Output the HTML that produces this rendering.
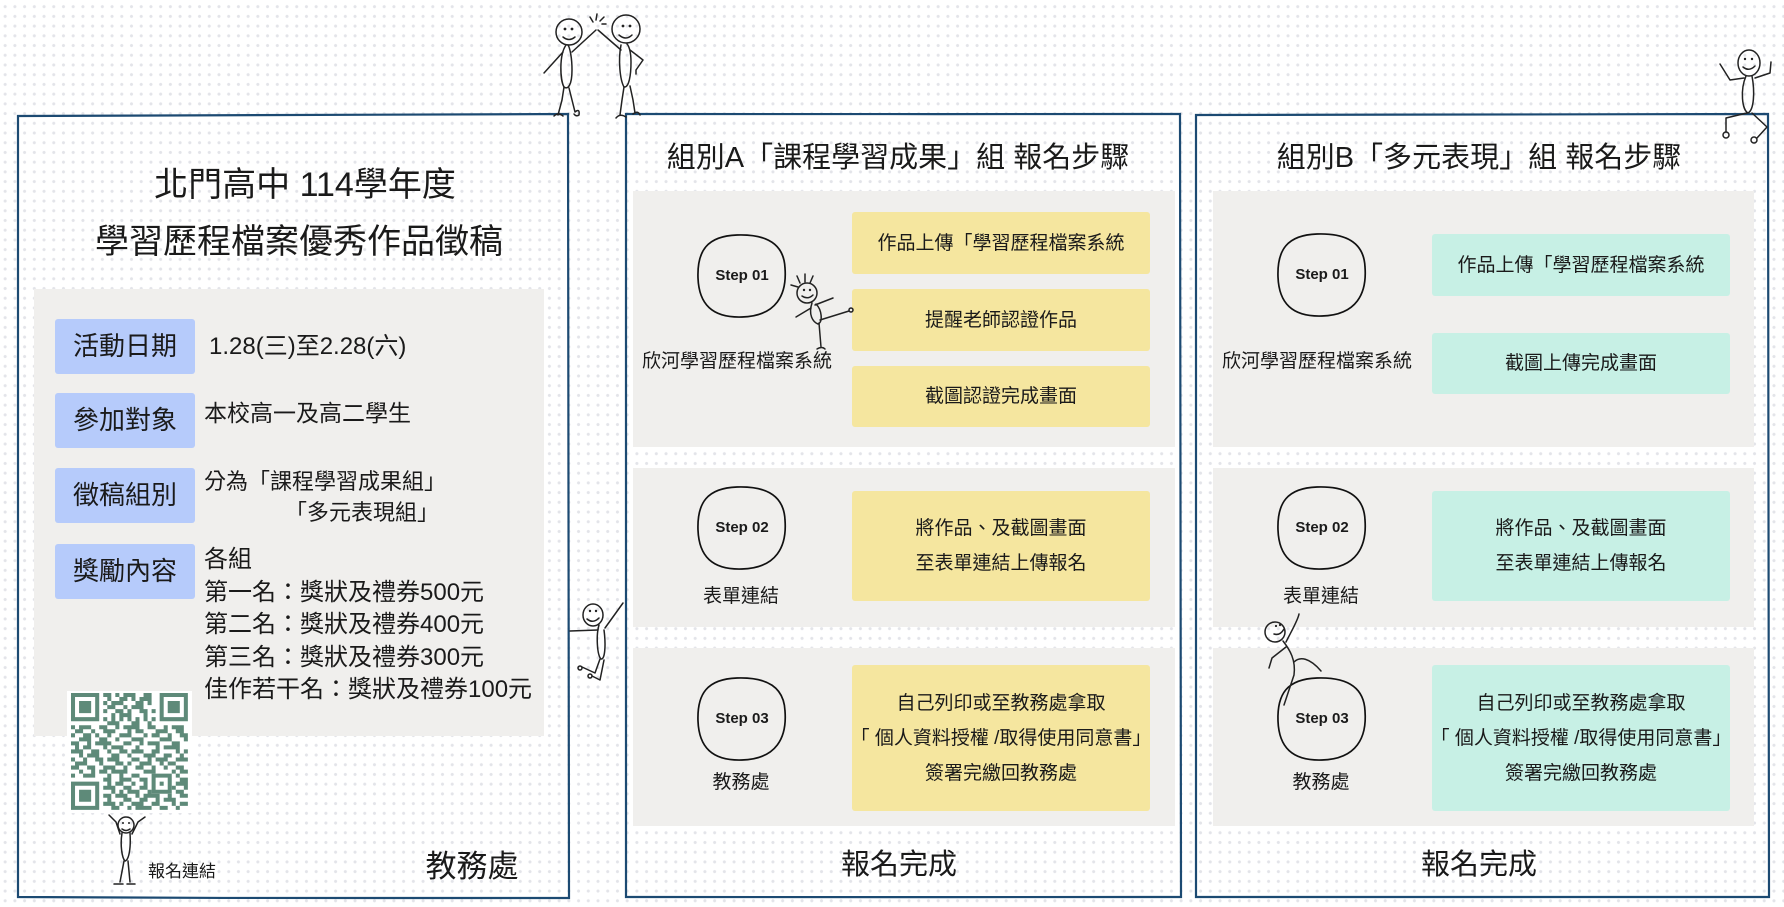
<!DOCTYPE html>
<html><head><meta charset="utf-8">
<style>
html,body{margin:0;padding:0}
body{width:1784px;height:907px;position:relative;overflow:hidden;background:#fff;
background-image:radial-gradient(circle at center,#e3e4e9 1.3px,transparent 1.8px);
background-size:9.73px 9.73px;background-position:0.3px 1.8px;
font-family:"Liberation Sans","Noto Sans CJK TC",sans-serif;color:#1a1a1a}
.a{position:absolute;white-space:nowrap}
.c{text-align:center}
.g{position:absolute;background:#f0efed}
.y,.m{position:absolute;border-radius:3px;display:flex;flex-direction:column;align-items:center;justify-content:center;font-size:19px;line-height:35px;white-space:nowrap}
.y{background:#f5e69f}
.m{background:#c7f0e5}
.b{position:absolute;background:#b6cbfb;border-radius:3px;text-align:center;font-size:26px;white-space:nowrap}
.st{font-weight:bold;font-size:15px}
svg{position:absolute;left:0;top:0}
</style></head><body>

<!-- gray areas -->
<div class="g" style="left:34px;top:289px;width:510px;height:447px"></div>
<div class="g" style="left:633px;top:191px;width:542px;height:256px"></div>
<div class="g" style="left:633px;top:468px;width:542px;height:159px"></div>
<div class="g" style="left:633px;top:648px;width:542px;height:178px"></div>
<div class="g" style="left:1213px;top:191px;width:541px;height:256px"></div>
<div class="g" style="left:1213px;top:468px;width:541px;height:159px"></div>
<div class="g" style="left:1213px;top:648px;width:541px;height:178px"></div>

<!-- blue labels -->
<div class="b" style="left:55px;top:319px;width:140px;height:55px;line-height:55px">活動日期</div>
<div class="b" style="left:55px;top:393px;width:140px;height:55px;line-height:55px">參加對象</div>
<div class="b" style="left:55px;top:468px;width:140px;height:55px;line-height:55px">徵稿組別</div>
<div class="b" style="left:55px;top:544px;width:140px;height:55px;line-height:55px">獎勵內容</div>

<!-- yellow boxes -->
<div class="y" style="left:852px;top:212px;width:298px;height:62px"><div>作品上傳「學習歷程檔案系統</div></div>
<div class="y" style="left:852px;top:289px;width:298px;height:62px"><div>提醒老師認證作品</div></div>
<div class="y" style="left:852px;top:366px;width:298px;height:61px"><div>截圖認證完成畫面</div></div>
<div class="y" style="left:852px;top:491px;width:298px;height:110px"><div>將作品、及截圖畫面</div><div>至表單連結上傳報名</div></div>
<div class="y" style="left:852px;top:665px;width:298px;height:146px"><div>自己列印或至教務處拿取</div><div>「 個人資料授權 /取得使用同意書」</div><div>簽署完繳回教務處</div></div>

<!-- teal boxes -->
<div class="m" style="left:1432px;top:234px;width:298px;height:62px"><div>作品上傳「學習歷程檔案系統</div></div>
<div class="m" style="left:1432px;top:333px;width:298px;height:61px"><div>截圖上傳完成畫面</div></div>
<div class="m" style="left:1432px;top:491px;width:298px;height:110px"><div>將作品、及截圖畫面</div><div>至表單連結上傳報名</div></div>
<div class="m" style="left:1432px;top:665px;width:298px;height:146px"><div>自己列印或至教務處拿取</div><div>「 個人資料授權 /取得使用同意書」</div><div>簽署完繳回教務處</div></div>

<svg width="1784" height="907" viewBox="0 0 1784 907">
  <!-- panel borders -->
  <g fill="none" stroke="#1c4a72" stroke-width="2.2" stroke-linecap="round">
    <path d="M18,116 C120,114 300,116 568,114 L569,898 C400,897 200,899 18,897 Z"/>
    <path d="M626,114 C800,113 1000,115 1180,114 L1181,897 C1000,898 800,896 626,897 Z"/>
    <path d="M1196,115 C1400,113 1600,116 1768,114 L1769,897 C1600,898 1400,896 1196,897 Z"/>
  </g>
  <!-- step circles -->
  <g fill="none" stroke="#111" stroke-width="1.7">
    <path id="cir" transform="translate(742,276)" d="M -5,-41 C 25,-42 42,-32 43,-8 C 45,18 35,40 0,41 C -30,42 -43,28 -44,2 C -45,-25 -35,-40 -5,-41 Z"/>
    <path transform="translate(742,528)" d="M -5,-41 C 25,-42 42,-32 43,-8 C 45,18 35,40 0,41 C -30,42 -43,28 -44,2 C -45,-25 -35,-40 -5,-41 Z"/>
    <path transform="translate(742,719)" d="M -5,-41 C 25,-42 42,-32 43,-8 C 45,18 35,40 0,41 C -30,42 -43,28 -44,2 C -45,-25 -35,-40 -5,-41 Z"/>
    <path transform="translate(1322,275)" d="M -5,-41 C 25,-42 42,-32 43,-8 C 45,18 35,40 0,41 C -30,42 -43,28 -44,2 C -45,-25 -35,-40 -5,-41 Z"/>
    <path transform="translate(1322,528)" d="M -5,-41 C 25,-42 42,-32 43,-8 C 45,18 35,40 0,41 C -30,42 -43,28 -44,2 C -45,-25 -35,-40 -5,-41 Z"/>
    <path transform="translate(1322,719)" d="M -5,-41 C 25,-42 42,-32 43,-8 C 45,18 35,40 0,41 C -30,42 -43,28 -44,2 C -45,-25 -35,-40 -5,-41 Z"/>
  </g>

  <!-- stick figures -->
  <g fill="none" stroke="#222" stroke-width="1.5" stroke-linecap="round" stroke-linejoin="round">
    <!-- high five left -->
    <circle cx="569" cy="32" r="13"/>
    <path d="M563,37 Q569,42 575,37"/>
    <path d="M566,45 C559,55 560,80 564,87 C568,90 572,85 572,70 C572,58 570,48 568,45"/>
    <path d="M563,52 L544,73"/>
    <path d="M572,52 L596,30"/>
    <path d="M564,87 L562,100 L558,115 M554,116 Q558,112 563,116"/>
    <path d="M569,88 L572,100 L575,112 M575,112 Q580,108 579,115 Q576,117 574,114"/>
    <path d="M593,22 L590,17 M596,20 L597,14 M600,21 L604,17 M602,24 L606,24"/>
    <!-- high five right -->
    <circle cx="626" cy="29" r="14"/>
    <path d="M619,35 Q626,41 632,35"/>
    <path d="M621,45 C618,60 620,80 624,87 C629,88 631,75 631,62 C631,52 629,46 627,44"/>
    <path d="M621,50 L598,30"/>
    <path d="M630,50 L643,60 L636,70 L636,74"/>
    <path d="M624,87 L622,100 L620,115 M616,118 Q620,113 626,117"/>
    <path d="M630,86 L633,100 L635,113 M633,114 Q638,110 640,115"/>
    <!-- between panels -->
    <ellipse cx="593" cy="615" rx="10" ry="11"/>
    <path d="M587,619 Q593,624 599,618"/>
    <path d="M599,625 C596,635 597,655 601,659 C605,660 606,645 604,630"/>
    <path d="M598,630 L570,631"/>
    <path d="M605,628 L623,603"/>
    <path d="M600,659 L595,673 L582,667"/>
    <path d="M604,660 L600,680 L592,676"/>
    <circle cx="580" cy="668" r="2"/><circle cx="590" cy="676" r="2"/>
    <!-- right panel figure -->
    <circle cx="1275" cy="632" r="10"/>
    <path d="M1274,634 Q1280,636 1284,629"/>
    <path d="M1286,642 C1292,630 1298,620 1299,614"/>
    <path d="M1283,641 C1290,650 1296,660 1294,675 L1284,705"/>
    <path d="M1286,647 L1272,658 L1269,668"/>
    <path d="M1294,662 C1300,656 1310,658 1321,671"/>
    <!-- middle section figure -->
    <circle cx="807" cy="293" r="10"/>
    <path d="M800,283 L797,276 M805,282 L805,274 M810,283 L813,276 M798,287 L791,285"/>
    <path d="M802,296 Q808,300 813,295"/>
    <path d="M811,308 L796,317"/>
    <path d="M815,305 L833,298"/>
    <path d="M812,303 C808,315 813,322 818,324 C823,322 822,310 816,304"/>
    <path d="M820,320 L849,311"/>
    <circle cx="851" cy="310" r="2"/>
    <path d="M819,323 L821,347 M817,349 Q822,346 825,349"/>
    <!-- QR figure -->
    <circle cx="126" cy="825" r="8"/>
    <path d="M122,829 Q126,832 130,829"/>
    <path d="M120,834 L116,822 L109,815"/>
    <path d="M132,834 L138,822 L145,817"/>
    <path d="M122,833 C120,845 122,858 125,861 C129,860 131,848 130,833"/>
    <path d="M124,861 L120,882 M128,861 L130,882 M114,884 L123,884 M127,884 L135,884"/>
    <!-- top right sitting figure -->
    <ellipse cx="1749" cy="63" rx="11" ry="13"/>
    <path d="M1743,67 Q1749,72 1755,66"/>
    <path d="M1744,78 L1730,80 L1720,64"/>
    <path d="M1755,78 L1770,73 L1771,62"/>
    <path d="M1746,76 C1740,90 1742,110 1748,113 C1754,110 1755,92 1752,76"/>
    <path d="M1747,113 L1726,118 L1726,132"/>
    <path d="M1752,113 L1767,127 L1757,138"/>
    <circle cx="1726" cy="135" r="3"/><circle cx="1754" cy="140" r="3"/>
  </g>
  <g fill="#222">
    <circle cx="565" cy="29" r="1.4"/><circle cx="572" cy="29" r="1.4"/>
    <circle cx="623" cy="26" r="1.4"/><circle cx="630" cy="26" r="1.4"/>
    <circle cx="590" cy="611" r="1.2"/><circle cx="596" cy="611" r="1.2"/>
    <circle cx="1276" cy="626" r="1.1"/><circle cx="1280" cy="625" r="1.1"/>
    <circle cx="804" cy="290" r="1.2"/><circle cx="810" cy="290" r="1.2"/>
    <circle cx="123" cy="823" r="1"/><circle cx="129" cy="823" r="1"/>
    <circle cx="1745" cy="59" r="1.2"/><circle cx="1752" cy="59" r="1.2"/>
  </g>

  <!-- QR code -->
  <rect x="67" y="691" width="125" height="122" fill="#fff"/>
  <g transform="translate(71,693) scale(4.03)" fill="#5e8a79">
    <path fill-rule="evenodd" d="M0 0h7v7h-7z M1 1v5h5v-5z M22 0h7v7h-7z M23 1v5h5v-5z M0 22h7v7h-7z M1 23v5h5v-5z M20 20h5v5h-5z M21 21v3h3v-3z"/>
    <path d="M2 2h3v3h-3z M24 2h3v3h-3z M2 24h3v3h-3z M22 22h1v1h-1z"/>
    <path d="M8 0h2v1h-2z M11 0h1v1h-1z M13 0h3v1h-3z M18 0h2v1h-2z
    M9 1h1v1h-1z M12 1h2v1h-2z M15 1h1v1h-1z M17 1h3v1h-3z
    M8 2h1v1h-1z M10 2h3v1h-3z M16 2h2v1h-2z M19 2h1v1h-1z
    M9 3h2v1h-2z M13 3h1v1h-1z M15 3h3v1h-3z
    M8 4h1v1h-1z M11 4h2v1h-2z M14 4h1v1h-1z M17 4h2v1h-2z M20 4h1v1h-1z
    M10 5h1v1h-1z M12 5h3v1h-3z M18 5h1v1h-1z
    M8 6h1v1h-1z M10 6h1v1h-1z M12 6h1v1h-1z M14 6h1v1h-1z M16 6h1v1h-1z M18 6h1v1h-1z M20 6h1v1h-1z
    M9 7h3v1h-3z M15 7h2v1h-2z M19 7h1v1h-1z
    M0 8h1v1h-1z M2 8h3v1h-3z M7 8h2v1h-2z M11 8h1v1h-1z M13 8h4v1h-4z M19 8h2v1h-2z M23 8h1v1h-1z M25 8h3v1h-3z
    M1 9h2v1h-2z M5 9h1v1h-1z M8 9h3v1h-3z M14 9h1v1h-1z M16 9h2v1h-2z M21 9h3v1h-3z M26 9h2v1h-2z
    M0 10h1v1h-1z M3 10h2v1h-2z M6 10h1v1h-1z M9 10h1v1h-1z M12 10h3v1h-3z M18 10h1v1h-1z M20 10h2v1h-2z M24 10h1v1h-1z M27 10h2v1h-2z
    M2 11h3v1h-3z M7 11h2v1h-2z M11 11h1v1h-1z M15 11h3v1h-3z M22 11h3v1h-3z M28 11h1v1h-1z
    M0 12h2v1h-2z M4 12h1v1h-1z M6 12h4v1h-4z M13 12h2v1h-2z M17 12h1v1h-1z M19 12h3v1h-3z M25 12h2v1h-2z
    M1 13h1v1h-1z M3 13h2v1h-2z M8 13h1v1h-1z M10 13h3v1h-3z M16 13h1v1h-1z M21 13h1v1h-1z M23 13h4v1h-4z
    M0 14h3v1h-3z M5 14h2v1h-2z M9 14h1v1h-1z M12 14h2v1h-2z M15 14h3v1h-3z M20 14h2v1h-2z M26 14h1v1h-1z M28 14h1v1h-1z
    M2 15h1v1h-1z M4 15h3v1h-3z M10 15h2v1h-2z M14 15h1v1h-1z M18 15h3v1h-3z M23 15h2v1h-2z M27 15h1v1h-1z
    M0 16h1v1h-1z M3 16h1v1h-1z M6 16h2v1h-2z M9 16h3v1h-3z M15 16h2v1h-2z M19 16h1v1h-1z M21 16h3v1h-3z M26 16h3v1h-3z
    M1 17h3v1h-3z M7 17h1v1h-1z M11 17h2v1h-2z M14 17h1v1h-1z M17 17h3v1h-3z M22 17h1v1h-1z M24 17h2v1h-2z
    M0 18h2v1h-2z M4 18h2v1h-2z M8 18h3v1h-3z M13 18h1v1h-1z M16 18h2v1h-2z M20 18h1v1h-1z M23 18h1v1h-1z M26 18h2v1h-2z
    M2 19h1v1h-1z M5 19h1v1h-1z M7 19h2v1h-2z M10 19h4v1h-4z M18 19h3v1h-3z M25 19h1v1h-1z M27 19h2v1h-2z
    M0 20h1v1h-1z M3 20h3v1h-3z M9 20h1v1h-1z M12 20h1v1h-1z M15 20h2v1h-2z M26 20h1v1h-1z
    M8 21h2v1h-2z M12 21h3v1h-3z M17 21h2v1h-2z M27 21h2v1h-2z
    M9 22h1v1h-1z M11 22h2v1h-2z M15 22h1v1h-1z M18 22h1v1h-1z M26 22h3v1h-3z
    M8 23h3v1h-3z M13 23h2v1h-2z M17 23h2v1h-2z M25 23h1v1h-1z M28 23h1v1h-1z
    M10 24h1v1h-1z M12 24h1v1h-1z M14 24h3v1h-3z M19 24h1v1h-1z M26 24h2v1h-2z
    M8 25h2v1h-2z M11 25h3v1h-3z M16 25h1v1h-1z M18 25h4v1h-4z M24 25h1v1h-1z M27 25h2v1h-2z
    M9 26h1v1h-1z M13 26h2v1h-2z M17 26h2v1h-2z M21 26h1v1h-1z M23 26h3v1h-3z
    M8 27h3v1h-3z M12 27h1v1h-1z M15 27h3v1h-3z M20 27h2v1h-2z M25 27h1v1h-1z M27 27h2v1h-2z
    M10 28h2v1h-2z M14 28h1v1h-1z M16 28h4v1h-4z M22 28h2v1h-2z M26 28h1v1h-1z"/>
  </g>
</svg>

<!-- left panel text -->
<div class="a c" style="left:55px;width:500px;top:163px;line-height:44px;font-size:34px">北門高中 114學年度</div>
<div class="a c" style="left:49px;width:500px;top:220px;line-height:44px;font-size:34px">學習歷程檔案優秀作品徵稿</div>
<div class="a" style="left:209px;top:331px;line-height:32px;font-size:24px">1.28(三)至2.28(六)</div>
<div class="a" style="left:204px;top:397px;line-height:32px;font-size:23px">本校高一及高二學生</div>
<div class="a" style="left:204px;top:466px;line-height:32px;font-size:22px">分為「課程學習成果組」</div>
<div class="a" style="left:285px;top:497px;line-height:32px;font-size:22px">「多元表現組」</div>
<div class="a" style="left:204px;top:544px;line-height:32.5px;font-size:24px">各組<br>第一名：獎狀及禮券500元<br>第二名：獎狀及禮券400元<br>第三名：獎狀及禮券300元<br>佳作若干名：獎狀及禮券100元</div>
<div class="a c" style="left:132px;width:100px;top:860px;line-height:24px;font-size:17px">報名連結</div>
<div class="a c" style="left:372px;width:200px;top:846px;line-height:42px;font-size:31px">教務處</div>

<!-- middle panel text -->
<div class="a c" style="left:598px;width:600px;top:138px;line-height:40px;font-size:29px">組別A「課程學習成果」組 報名步驟</div>
<div class="a c st" style="left:692px;width:100px;top:266px;line-height:20px">Step 01</div>
<div class="a c st" style="left:692px;width:100px;top:518px;line-height:20px">Step 02</div>
<div class="a c st" style="left:692px;width:100px;top:709px;line-height:20px">Step 03</div>
<div class="a c" style="left:587px;width:300px;top:348px;line-height:28px;font-size:19px">欣河學習歷程檔案系統</div>
<div class="a c" style="left:641px;width:200px;top:583px;line-height:28px;font-size:19px">表單連結</div>
<div class="a c" style="left:641px;width:200px;top:769px;line-height:28px;font-size:19px">教務處</div>
<div class="a c" style="left:749px;width:300px;top:845px;line-height:40px;font-size:29px">報名完成</div>

<!-- right panel text -->
<div class="a c" style="left:1179px;width:600px;top:138px;line-height:40px;font-size:29px">組別B「多元表現」組 報名步驟</div>
<div class="a c st" style="left:1272px;width:100px;top:265px;line-height:20px">Step 01</div>
<div class="a c st" style="left:1272px;width:100px;top:518px;line-height:20px">Step 02</div>
<div class="a c st" style="left:1272px;width:100px;top:709px;line-height:20px">Step 03</div>
<div class="a c" style="left:1167px;width:300px;top:348px;line-height:28px;font-size:19px">欣河學習歷程檔案系統</div>
<div class="a c" style="left:1221px;width:200px;top:583px;line-height:28px;font-size:19px">表單連結</div>
<div class="a c" style="left:1221px;width:200px;top:769px;line-height:28px;font-size:19px">教務處</div>
<div class="a c" style="left:1329px;width:300px;top:845px;line-height:40px;font-size:29px">報名完成</div>

</body></html>
